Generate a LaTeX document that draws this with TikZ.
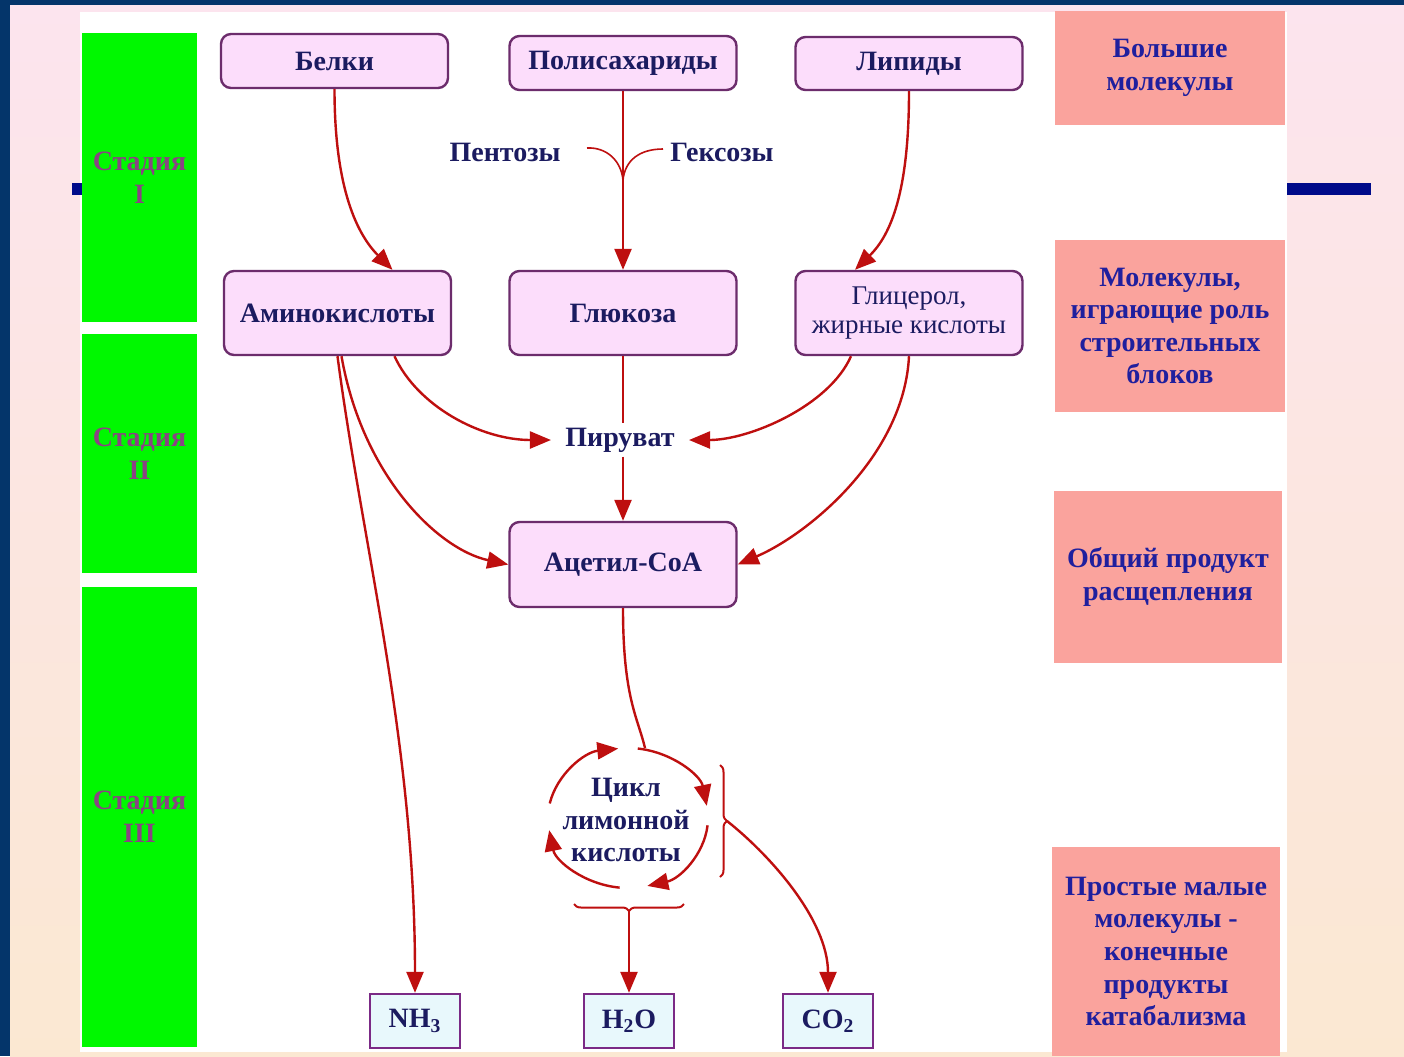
\documentclass[tikz,border=0pt]{standalone}
\usepackage{fontspec}
\setmainfont{Liberation Serif}
\usetikzlibrary{arrows.meta,calc,decorations.pathreplacing}
\definecolor{frame}{HTML}{04356A}
\definecolor{bgtop}{HTML}{FCE4EE}
\definecolor{bgbot}{HTML}{FBE8D2}
\definecolor{barblue}{HTML}{000B8A}
\definecolor{stagegreen}{HTML}{00F800}
\definecolor{stagetxt}{HTML}{8A4383}
\definecolor{notefill}{HTML}{FAA39D}
\definecolor{notetxt}{HTML}{1F1F9E}
\definecolor{boxfill}{HTML}{FCDDFB}
\definecolor{boxline}{HTML}{6C2C6C}
\definecolor{txt}{HTML}{1B1B60}
\definecolor{prodfill}{HTML}{E8F8FC}
\definecolor{prodline}{HTML}{7B2A86}
\definecolor{arrred}{HTML}{BE0F0F}
\begin{document}
\begin{tikzpicture}[x=0.5pt,y=-0.5pt,
  big/.style={font=\fontsize{14}{16.3}\selectfont\bfseries},
  stagebox/.style={fill=stagegreen, minimum width=57.5pt, text=stagetxt, big, align=center, inner sep=0pt},
  notebox/.style={fill=notefill, minimum width=115pt, text=notetxt, big, align=center, inner sep=0pt},
  mol/.style={draw=boxline, line width=1.2pt, fill=boxfill, rounded corners=5pt, minimum width=113.5pt, text=txt, big, align=center, inner sep=0pt},
  prod/.style={draw=prodline, line width=1.2pt, fill=prodfill, minimum width=45pt, minimum height=27pt, text=txt, big, inner sep=0pt},
  lbl/.style={text=txt, big, inner sep=2pt},
  link/.style={draw=arrred, line width=1.2pt},
  arr/.style={link, -{Triangle[length=10.5pt,width=8.5pt]}},
  brc/.style={draw=arrred, line width=1pt, decorate, decoration={brace, amplitude=3.5pt}},
]
\useasboundingbox (0,0) rectangle (1404,1056);
% background
\fill[frame] (0,0) rectangle (1404,1056);
\shade[top color=bgtop, bottom color=bgbot] (10,5) rectangle (1404,1056);
\fill[white] (80,12) rectangle (1287,1052);
\fill[barblue] (72,183) rectangle (82,195);
\fill[barblue] (1287,183) rectangle (1371,195);

% stages
\node[stagebox, minimum height=144.5pt] (st1) at (139.5,177.5) {Стадия\\I};
\node[stagebox, minimum height=119.5pt] (st2) at (139.5,453.5) {Стадия\\II};
\node[stagebox, minimum height=230pt] (st3) at (139.5,817) {Стадия\\III};

% notes
\node[notebox, minimum height=57pt] (n1) at (1170,68) {Большие\\молекулы};
\node[notebox, minimum height=86pt] (n2) at (1170,326) {Молекулы,\\играющие роль\\строительных\\блоков};
\node[notebox, minimum height=86pt, minimum width=114pt] (n3) at (1168,577) {Общий продукт\\расщепления};
\node[notebox, minimum height=104.5pt, minimum width=114pt] (n4) at (1166,951.5) {Простые малые\\молекулы -\\конечные\\продукты\\катабализма};

% main boxes
\node[mol, minimum height=27pt] (belki) at (334.5,61) {Белки};
\node[mol, minimum height=27pt] (poly) at (623,63) {Полисахариды};
\node[mol, minimum height=26.5pt] (lip) at (909,63.5) {Липиды};
\node[mol, minimum height=42pt] (amino) at (337.5,313) {Аминокислоты};
\node[mol, minimum height=42pt] (gluc) at (623,313) {Глюкоза};
\node[mol, minimum height=42pt, font=\fontsize{13.5}{14.5}\selectfont\mdseries] (glyc) at (909,313) {Глицерол,\\жирные кислоты};
\node[mol, minimum height=42.5pt] (acet) at (623,564.5) {Ацетил-CoA};

\node[lbl, inner xsep=7pt] (pir) at (620,440) {Пируват};
\node[lbl] (pent) at (505,152) {Пентозы};
\node[lbl] (hex) at (722,152) {Гексозы};
\node[lbl, align=center, font=\fontsize{14}{16.3}\selectfont\bfseries] (cycle) at (626,820) {Цикл\\лимонной\\кислоты};

\node[prod] (nh3) at (415,1021) {NH\textsubscript{3}};
\node[prod] (h2o) at (629,1021) {H\textsubscript{2}O};
\node[prod] (co2) at (828,1021) {CO\textsubscript{2}};

% helper coordinates
\coordinate (jn) at (623,180);
\coordinate (pe) at (587,148);
\coordinate (he) at (663,149);
\coordinate (cyc) at (628,818);
\coordinate (br1a) at (720,765);
\coordinate (br1b) at (720,877);
\coordinate (br2a) at (684,904);
\coordinate (br2b) at (574,904);
\coordinate (bt1) at (727,821);
\coordinate (bt2) at (629,911);

% connectors
\draw[arr] (belki.south) .. controls ($(belki.south)+(0,100)$) and ($(amino.north)+(20,-35)$) .. ($(amino.north)+(55,0)$);
\draw[arr] (lip.south) .. controls ($(lip.south)+(0,100)$) and ($(glyc.north)+(-18,-35)$) .. ($(glyc.north)+(-54,0)$);
\draw[arr] (poly) -- (gluc);
\draw[link, line width=0.8pt] (pe) .. controls (606,147) and (621,160) .. (jn);
\draw[link, line width=0.8pt] (he) .. controls (640,149) and (625,160) .. (jn);

\draw[arr] ($(amino.south)+(57,0)$) .. controls ($(amino.south)+(80,50)$) and ($(pir.west)+(-70,0)$) .. (pir.west);
\draw[arr] ($(glyc.south)+(-58,0)$) .. controls ($(glyc.south)+(-80,50)$) and ($(pir.east)+(60,0)$) .. (pir.east);
\draw[link] (gluc.south) -- (gluc.south |- pir.north);
\draw[arr] (gluc.south |- pir.south) -- (acet.north);
\draw[arr] ($(amino.south)+(4,0)$) .. controls ($(amino.south)+(25,120)$) and ($(acet.west)+(-70,-15)$) .. (acet.west);
\draw[arr] (glyc.south) .. controls ($(glyc.south)+(-5,100)$) and ($(acet.east)+(70,-30)$) .. (acet.east);
\draw[arr] (amino.south) .. controls ($(amino.south)+(25,190)$) and ($(nh3.north)+(0,-250)$) .. (nh3.north);

\draw[link] (acet.south) .. controls ($(acet.south)+(0,90)$) and ($(cyc)+(10,-100)$) .. ($(cyc)+(17,-70)$);

% cycle arcs
\draw[arr] ($(cyc)+(-168:80 and 70)$) arc[start angle=-168, end angle=-97, x radius=80, y radius=70];
\draw[arr] ($(cyc)+(-83:80 and 70)$) arc[start angle=-83, end angle=-10, x radius=80, y radius=70];
\draw[arr] ($(cyc)+(6:80 and 70)$) arc[start angle=6, end angle=76, x radius=80, y radius=70];
\draw[arr] ($(cyc)+(96:80 and 70)$) arc[start angle=96, end angle=170, x radius=80, y radius=70];

% braces
\draw[brc] (br1a) -- (br1b);
\draw[brc] (br2a) -- (br2b);
\draw[arr] (bt1) .. controls (770,855) and (828,920) .. (co2.north);
\draw[arr] (bt2) -- (h2o.north);
\end{tikzpicture}
\end{document}
